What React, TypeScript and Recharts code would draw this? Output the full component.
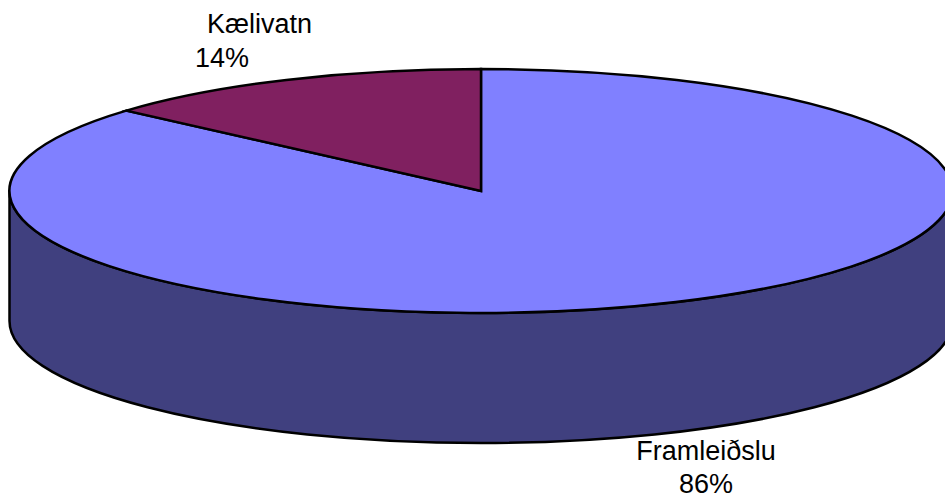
import { PieChart, Pie, Cell } from "recharts";

const names = ["Framleiðslu", "Kælivatn"];
const shares = [86.45, 13.55];
const topColors = ["#8080FF", "#802060"];
const wallColors = ["#40407F", "#401030"];

const chartData = names.map((name, i) => ({ name, value: shares[i] }));

// the pie is tilted: the library's circle gets squashed to an ellipse
const RX = 471.5;
const RY = 122;
const DEPTH = 130;

const RAD = Math.PI / 180;

function SlantedSector(props: any) {
  const { cx, cy, startAngle, endAngle, fill, index } = props;
  const pt = (a: number, dy = 0) =>
    `${cx + RX * Math.cos(a * RAD)} ${cy - RY * Math.sin(a * RAD) + dy}`;

  // only the front half of the rim can be seen
  const wallFrom = Math.min(startAngle, 0);
  const wallTo = Math.max(endAngle, -180);
  const large = startAngle - endAngle > 180 ? 1 : 0;

  return (
    <g>
      {wallFrom > wallTo && (
        <path
          d={`M ${pt(wallFrom)} A ${RX} ${RY} 0 0 1 ${pt(wallTo)} L ${pt(wallTo, DEPTH)} A ${RX} ${RY} 0 0 0 ${pt(wallFrom, DEPTH)} Z`}
          fill={wallColors[index]}
          stroke="#000"
          strokeWidth={2.5}
          strokeLinejoin="round"
        />
      )}
      <path
        d={`M ${cx} ${cy} L ${pt(startAngle)} A ${RX} ${RY} 0 ${large} 1 ${pt(endAngle)} Z`}
        fill={fill}
        stroke="#000"
        strokeWidth={2.5}
        strokeLinejoin="miter"
      />
    </g>
  );
}

// where each label sits; the two lines are not always lined up in the original
const labelSpots = [
  { nameX: 706, nameY: 460, pctX: 706, pctY: 493 },
  { nameX: 259.5, nameY: 33, pctX: 222, pctY: 67 },
];

function sliceLabel(props: any) {
  const { index, name, value } = props;
  const spot = labelSpots[index];
  const style = { fontFamily: "Liberation Sans, Arial, sans-serif", fontSize: 27 };
  return (
    <g key={name}>
      <text x={spot.nameX} y={spot.nameY} textAnchor="middle" fill="#000" style={style}>
        {name}
      </text>
      <text x={spot.pctX} y={spot.pctY} textAnchor="middle" fill="#000" style={style}>
        {Math.round(value)}%
      </text>
    </g>
  );
}

export default function App() {
  return (
    <div style={{ position: "absolute", left: 0, top: 0, width: 945, height: 500, overflow: "hidden", background: "#fff" }}>
      <PieChart width={945} height={500} margin={{ top: 0, right: 0, bottom: 0, left: 0 }}>
        <Pie
          data={chartData}
          dataKey="value"
          nameKey="name"
          cx={481}
          cy={191}
          innerRadius={0}
          outerRadius={RX}
          startAngle={90}
          endAngle={-270}
          paddingAngle={0}
          stroke="#000"
          shape={SlantedSector}
          label={sliceLabel}
          labelLine={false}
          isAnimationActive={false}
        >
          {chartData.map((entry, i) => (
            <Cell key={entry.name} fill={topColors[i]} />
          ))}
        </Pie>
      </PieChart>
    </div>
  );
}
